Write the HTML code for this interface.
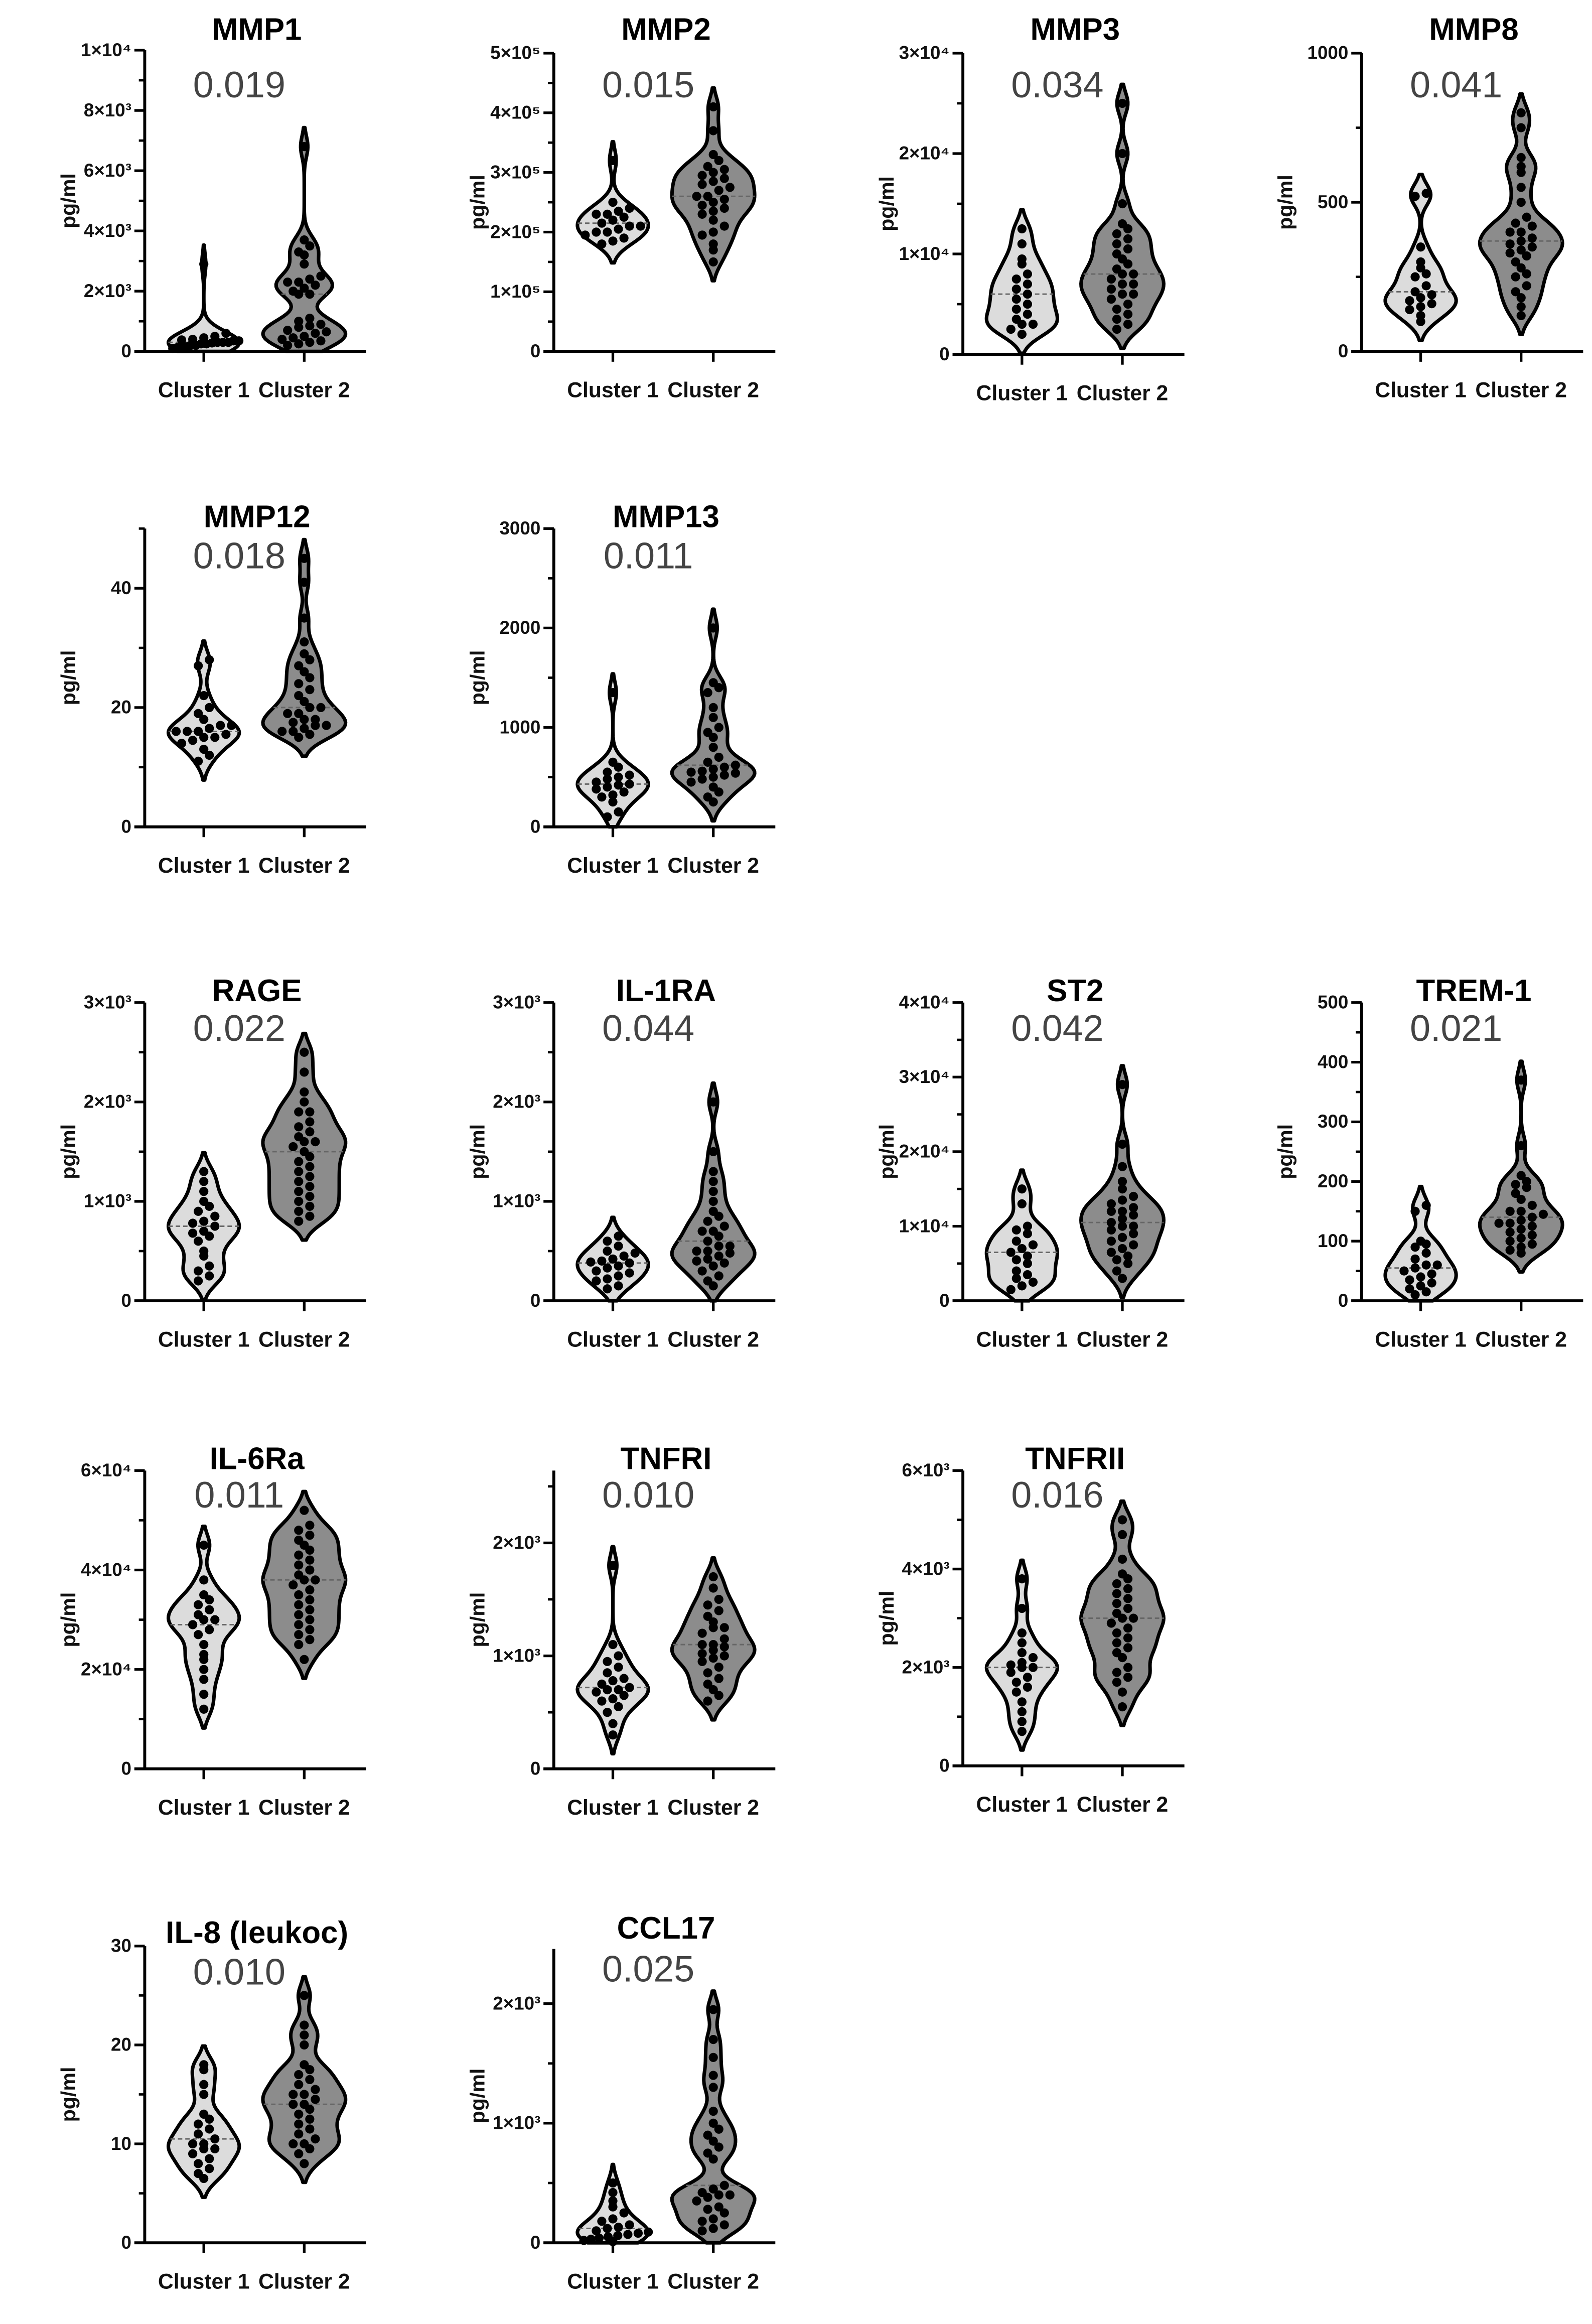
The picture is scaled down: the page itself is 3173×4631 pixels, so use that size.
<!DOCTYPE html>
<html><head><meta charset="utf-8"><style>
html,body{margin:0;padding:0;background:#fff}
svg{display:block}
text{font-family:"Liberation Sans",Arial,sans-serif}
</style></head><body>
<svg id="fig" width="3173" height="4631" viewBox="0 0 1078 1574" preserveAspectRatio="none" xmlns="http://www.w3.org/2000/svg"></svg>
<script>
const panelNames=["MMP1","MMP2","MMP3","MMP8","MMP12","MMP13","RAGE","IL-1RA","ST2","TREM-1","IL-6Ra","TNFRI","TNFRII","IL-8 (leukoc)","CCL17"];
const pValues=["0.019","0.015","0.034","0.041","0.018","0.011","0.022","0.044","0.042","0.021","0.011","0.010","0.016","0.010","0.025"];
const axisMax=[10000,500000,30000,1000,50,3000,3000,3000,40000,500,60000,2640,6000,30,2457];
const majorTicks=[[0,2000,4000,6000,8000,10000],[0,100000,200000,300000,400000,500000],[0,10000,20000,30000],[0,500,1000],[0,20,40],[0,1000,2000,3000],[0,1000,2000,3000],[0,1000,2000,3000],[0,10000,20000,30000,40000],[0,100,200,300,400,500],[0,20000,40000,60000],[0,1000,2000],[0,2000,4000,6000],[0,10,20,30],[0,1000,2000]];
const tickLabels=[["0","2×10³","4×10³","6×10³","8×10³","1×10⁴"],["0","1×10⁵","2×10⁵","3×10⁵","4×10⁵","5×10⁵"],["0","1×10⁴","2×10⁴","3×10⁴"],["0","500","1000"],["0","20","40"],["0","1000","2000","3000"],["0","1×10³","2×10³","3×10³"],["0","1×10³","2×10³","3×10³"],["0","1×10⁴","2×10⁴","3×10⁴","4×10⁴"],["0","100","200","300","400","500"],["0","2×10⁴","4×10⁴","6×10⁴"],["0","1×10³","2×10³"],["0","2×10³","4×10³","6×10³"],["0","10","20","30"],["0","1×10³","2×10³"]];
const minorStep=[1000,50000,5000,250,10,500,500,500,5000,50,10000,500,1000,5,500];
const cluster1=[
[2900,600,500,450,400,380,350,300,300,280,250,250,200,200,150,150,120,100,300,350],
[320000,250000,240000,235000,230000,225000,220000,215000,210000,205000,200000,200000,195000,190000,185000,180000,230000,210000],
[12500,11000,9500,9000,8000,7000,6500,6000,5000,4500,4000,3500,3000,3000,2500,2000,5500,7500],
[530,520,350,300,280,250,220,200,180,170,160,150,140,120,100,260,190],
[28,27,22,20,19,18,17,17,16.5,16,16,16,15.5,15,15,14.5,14,13,12,11],
[1350,650,600,550,520,500,480,450,430,400,380,350,320,300,250,150,100,420],
[1300,1200,1100,1000,950,900,850,800,780,750,700,650,600,500,450,350,300,250,200,680],
[650,600,550,500,480,450,420,400,380,350,330,300,280,250,220,200,150,120,390],
[15000,13000,10000,9500,9000,8000,7500,7000,6500,5500,5000,4000,3500,3000,2500,2000,1500,6000],
[160,150,100,95,90,80,70,60,55,50,45,40,35,30,25,20,15,10,60],
[45000,38000,35000,34000,33000,32000,31000,30000,29000,28000,27000,25000,23000,22000,20000,18000,15000,12000,30000],
[1800,1100,1000,950,900,850,800,780,750,720,700,680,650,620,600,550,500,400,300,700],
[3800,3200,2700,2500,2300,2200,2100,2000,2000,1900,1800,1700,1600,1500,1300,1100,900,700,2050],
[18,17.5,16,15,13,12.5,12,11.5,11,10.5,10,10,9.5,9,8.5,8,7.5,7,6.5,9.5],
[500,420,350,300,250,200,180,150,130,120,100,90,80,70,60,50,40,30,20,10]];
const cluster2=[
[6800,3700,3500,3300,3200,2900,2500,2400,2300,2300,2200,2100,2000,1900,1900,1000,900,850,800,700,650,600,500,450,400,350,300,250,200,1100],
[410000,370000,330000,310000,305000,300000,295000,290000,280000,275000,270000,260000,255000,250000,245000,240000,235000,230000,220000,210000,200000,195000,180000,170000,150000,260000,285000,320000],
[25000,20000,15000,13000,12000,11500,11000,10500,10000,9500,9000,8500,8000,7500,7000,7000,6500,6000,6000,5500,5000,4500,4000,3500,3000,2500,12500,8000],
[800,750,650,620,600,550,500,450,420,400,400,380,370,350,340,330,320,300,280,260,250,220,200,180,150,120,430,360],
[45,41,35,31,29,28,26,24,23,22,21,20,20,19,19,18,18,17.5,17,17,16.5,16,16,15.5,15,25,27],
[2000,1450,1400,1350,1200,1100,1000,950,800,700,650,620,600,580,560,550,540,520,500,480,450,400,350,300,250,900],
[2500,2300,2100,2000,1900,1800,1750,1700,1650,1600,1550,1500,1450,1400,1350,1300,1250,1200,1150,1100,1050,1000,950,900,850,800,1600,1900],
[2000,1500,1300,1200,1100,1000,900,850,800,750,700,650,600,550,550,500,500,480,450,420,400,380,350,300,250,200,150,700],
[29000,21000,18000,16000,15000,14000,13500,13000,12500,12000,11500,11000,10500,10000,9500,9000,8500,8000,7500,7000,6500,6000,5500,5000,4000,3000,12000,10000],
[370,260,210,200,195,190,180,170,160,150,145,140,135,130,125,120,115,110,105,100,95,90,85,80,150,130],
[52000,49000,48000,47000,46000,45000,44000,43000,42000,41000,40000,39000,38000,37000,36000,35000,34000,33000,32000,31000,30000,29000,28000,27000,26000,25000,22000,38000],
[1700,1600,1500,1450,1400,1350,1300,1250,1200,1150,1100,1080,1050,1020,1000,980,950,900,850,800,750,700,650,600,1100,1250],
[5000,4700,4200,3900,3800,3700,3600,3500,3400,3300,3200,3100,3000,2900,2800,2700,2600,2500,2400,2300,2200,2000,1900,1800,1700,1500,1200,3000],
[25,22,21,20,18,17.5,17,16.5,16,15.5,15,15,14.5,14,13.5,13,12.5,12,11.5,11,10.5,10,10,9.5,9,8,14],
[1950,1700,1550,1400,1300,1100,1000,950,900,850,800,750,700,480,450,420,400,380,350,300,280,250,200,180,150,120,100,400]];

const layout=[[98,34,238,27,66],[375,36,238,27,66],[652,36,240,27,66],[922,36,238,27,66],
[98,358,560,357,385],[375,358,560,357,385],
[98,679,881,678,705],[375,679,881,678,705],[652,679,881,678,705],[922,679,881,678,705],
[98,996,1198,995,1021],[375,996,1198,995,1021],[652,996,1196,995,1021],
[98,1318,1519,1316,1344],[375,1320,1519,1313,1342]];
const NS="http://www.w3.org/2000/svg";
const svg=document.getElementById('fig');
function mk(tag,attrs,parent){const e=document.createElementNS(NS,tag);for(const k in attrs)e.setAttribute(k,attrs[k]);(parent||svg).appendChild(e);return e;}
function kde(vals,bw,y){let s=0;for(const v of vals){const z=(y-v)/bw;s+=Math.exp(-0.5*z*z);}return s;}

panelNames.forEach((name,i)=>{
  const [ax,top,base,tY,pY]=layout[i];
  const max=axisMax[i];
  const yS=v=>base-(v/max)*(base-top);
  const g=mk('g',{});
  
  
  const c1x=ax+40,c2x=ax+108;
  const t=mk('text',{x:ax+76,y:tY,'text-anchor':'middle','font-size':21,'font-weight':'bold',fill:'#000'},g);
  t.textContent=name;
  
  
  const p=mk('text',{x:ax+64,y:pY,'text-anchor':'middle','font-size':25,fill:'#444'},g);
  p.textContent=pValues[i];
  
  
  [[cluster1[i],c1x,'#dcdcdc',24],[cluster2[i],c2x,'#8c8c8c',28]].forEach(([vals,cx,fill,hw],ci)=>{
    const bw=0.035*max;
    const lo=Math.max(0,Math.min(...vals)-1.8*bw), hi=Math.min(max,Math.max(...vals)+1.8*bw);
    const N=90;let peak=0;const ds=[];
    for(let k=0;k<=N;k++){const v=lo+(hi-lo)*k/N;const d=kde(vals,bw,v);ds.push([v,d]);peak=Math.max(peak,d);}
    const wAt=v=>Math.max(0,kde(vals,bw,v)/peak*hw);
    const right=ds.map(([v,d])=>[cx+d/peak*hw,yS(v)]);
    const left=ds.slice().reverse().map(([v,d])=>[cx-d/peak*hw,yS(v)]);
    const path='M'+[cx,yS(lo)].join(',')+' L'+right.map(q=>q.join(',')).join(' L')+' L'+cx+','+yS(hi)+' L'+left.map(q=>q.join(',')).join(' L')+' Z';
    const vp=mk('path',{d:path,fill:fill,stroke:'#000','stroke-width':2.4,'stroke-linejoin':'round'},g);
    
    
    const sorted=vals.slice().sort((a,b)=>a-b);const med=sorted[Math.floor(sorted.length/2)];
    const md=wAt(med);
    const ml=mk('line',{x1:cx-md,x2:cx+md,y1:yS(med),y2:yS(med),stroke:'#666','stroke-width':1,'stroke-dasharray':'3,2'},g);
    
    
    const bins={};
    sorted.forEach(v=>{const b=Math.round(yS(v)/6.5);(bins[b]=bins[b]||[]).push(v);});
    Object.keys(bins).forEach(b=>{const arr=bins[b];arr.forEach((v,k)=>{
      const w=Math.max(2,wAt(v));
      const sp=arr.length>1?Math.min(7.5,2*w/(arr.length-1)):0;
      const off=(k-(arr.length-1)/2)*sp;
      const c=mk('circle',{cx:cx+off,cy:yS(v),r:3.1,fill:'#000'},g);
      
      
    });});
  });
  const ya=mk('line',{x1:ax,x2:ax,y1:top,y2:base,stroke:'#000','stroke-width':2},g);
  
  
  const xa=mk('line',{x1:ax-7,x2:ax+150,y1:base,y2:base,stroke:'#000','stroke-width':2},g);
  
  
  for(let v=0;v<=max+1e-9;v+=minorStep[i]){
    const tk=mk('line',{x1:ax-4,x2:ax,y1:yS(v),y2:yS(v),stroke:'#000','stroke-width':1.6},g);
    
    
  }
  majorTicks[i].forEach((v,k)=>{
    const tk=mk('line',{x1:ax-7,x2:ax,y1:yS(v),y2:yS(v),stroke:'#000','stroke-width':1.8},g);
    
    
    const tl=mk('text',{x:ax-9,y:yS(v)+4,'text-anchor':'end','font-size':12.5,'font-weight':'bold',fill:'#111'},g);
    tl.textContent=tickLabels[i][k];
    
    
  });
  [[c1x,'Cluster 1'],[c2x,'Cluster 2']].forEach(([x,l])=>{
    const tk=mk('line',{x1:x,x2:x,y1:base,y2:base+7,stroke:'#000','stroke-width':1.8},g);
    
    
    const tl=mk('text',{x:x,y:base+31,'text-anchor':'middle','font-size':14.5,'font-weight':'bold',fill:'#111'},g);
    tl.textContent=l;
    
    
  });
  const yl=mk('text',{x:0,y:0,'text-anchor':'middle','font-size':14,'font-weight':'bold',fill:'#111',transform:`translate(${ax-47},${(top+base)/2}) rotate(-90)`},g);
  yl.textContent='pg/ml';
  
  
});
</script>
</body></html>
